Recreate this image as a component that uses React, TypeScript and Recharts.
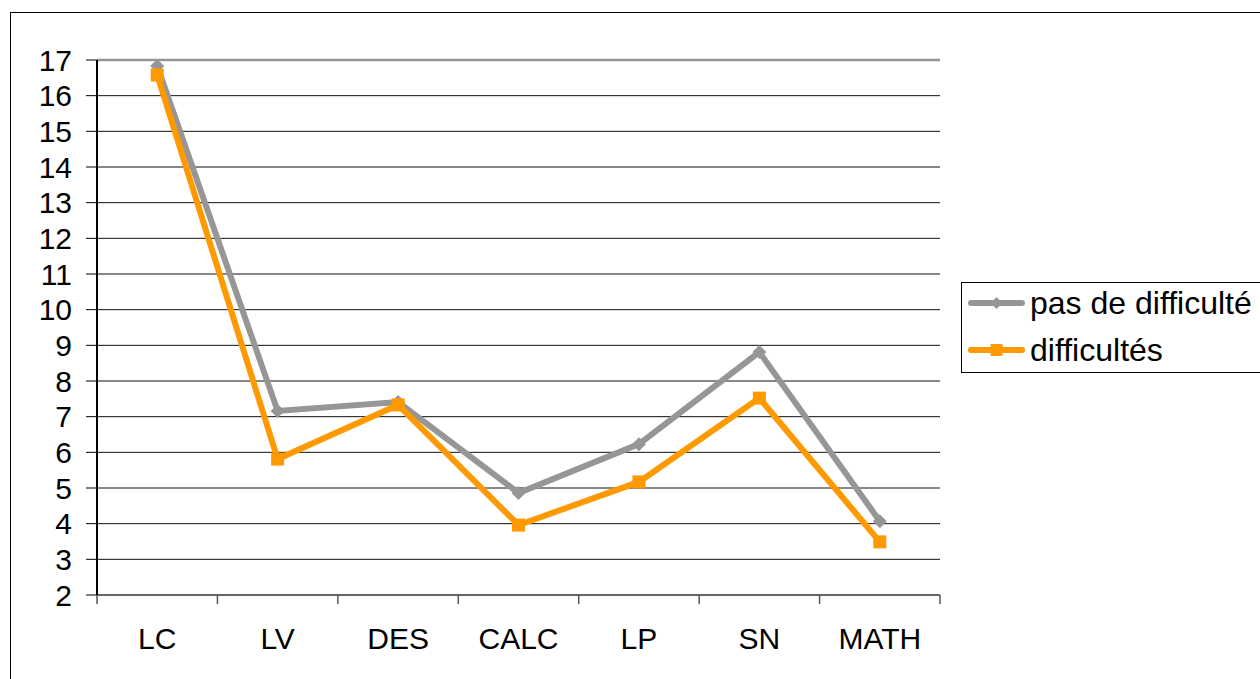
import React from "react";
import { LineChart, Line, XAxis, YAxis, CartesianGrid, ReferenceLine } from "recharts";

const categories = ["LC", "LV", "DES", "CALC", "LP", "SN", "MATH"];
const pasDeDifficulte = [16.83, 7.16, 7.41, 4.86, 6.23, 8.81, 4.07];
const difficultes = [16.58, 5.81, 7.33, 3.96, 5.17, 7.52, 3.49];
const yTicks = [2, 3, 4, 5, 6, 7, 8, 9, 10, 11, 12, 13, 14, 15, 16, 17];
const seriesNames = ["pas de difficulté", "difficultés"];
const seriesColors = ["#969696", "#FF9900"];

const data = categories.map((c, i) => ({
  name: c,
  pas: pasDeDifficulte[i],
  diff: difficultes[i],
}));

const FONT = '"Liberation Sans", Arial, sans-serif';

const Diamond = (props: any) => {
  const { cx, cy, index } = props;
  if (cx == null || cy == null) return <g key={`dg-${index}`} />;
  return (
    <polygon
      key={`dg-${index}`}
      points={`${cx},${cy - 7} ${cx + 7},${cy} ${cx},${cy + 7} ${cx - 7},${cy}`}
      fill={seriesColors[0]}
    />
  );
};

const Square = (props: any) => {
  const { cx, cy, index } = props;
  if (cx == null || cy == null) return <g key={`sq-${index}`} />;
  return <rect key={`sq-${index}`} x={cx - 6.5} y={cy - 6.5} width={13} height={13} fill={seriesColors[1]} />;
};

const XTick = (props: any) => {
  const { x, y, payload, index } = props;
  const half = payload && payload.offset ? payload.offset : 60.2;
  const last = index === categories.length - 1;
  return (
    <g>
      <line x1={x - half} x2={x - half} y1={y} y2={y + 9} stroke="#555" strokeWidth={1.5} />
      {last && <line x1={x + half} x2={x + half} y1={y} y2={y + 9} stroke="#555" strokeWidth={1.5} />}
      <text x={x} y={y + 43} textAnchor="middle" dominantBaseline="central" fontSize={30} fontFamily={FONT} fill="#000">
        {payload.value}
      </text>
    </g>
  );
};

const LegendIcon = ({ i }: { i: number }) => (
  <svg width={57} height={14} style={{ marginRight: 5 }}>
    <line x1={3} x2={54} y1={7} y2={7} stroke={seriesColors[i]} strokeWidth={6} strokeLinecap="round" />
    {i === 0 ? (
      <polygon points="28.5,1 34.5,7 28.5,13 22.5,7" fill={seriesColors[0]} />
    ) : (
      <rect x={22.5} y={1} width={12} height={12} fill={seriesColors[1]} />
    )}
  </svg>
);

export default function App() {
  return (
    <div style={{ position: "absolute", left: 0, top: 0, width: 1260, height: 679, overflow: "hidden", background: "#fff" }}>
      <div style={{ position: "absolute", left: 10, top: 12, width: 1300, height: 720, border: "1.5px solid #000" }} />
      <div style={{ position: "absolute", left: 0, top: 0 }}>
        <LineChart
          width={1260}
          height={679}
          data={data}
          margin={{ top: 60, right: 320, bottom: 24, left: 0 }}
        >
          <CartesianGrid vertical={false} stroke="#111" strokeWidth={1} />
          <XAxis
            dataKey="name"
            scale="band"
            height={60}
            tickSize={0}
            tickMargin={0}
            tickLine={false}
            axisLine={{ stroke: "#666", strokeWidth: 2 }}
            tick={<XTick />}
            interval={0}
          />
          <YAxis
            width={97}
            domain={[2, 17]}
            ticks={yTicks}
            interval={0}
            tickSize={11}
            tickMargin={14}
            axisLine={{ stroke: "#000", strokeWidth: 2 }}
            tickLine={{ stroke: "#000" }}
            tick={{ fontSize: 30, fontFamily: FONT, fill: "#000" }}
          />
          <YAxis
            yAxisId="right"
            orientation="right"
            width={0}
            domain={[2, 17]}
            tick={false}
            tickLine={false}
            axisLine={{ stroke: "#969696", strokeWidth: 2 }}
          />
          <ReferenceLine y={17} stroke="#969696" strokeWidth={2.5} />
          <Line
            dataKey="pas"
            name={seriesNames[0]}
            stroke={seriesColors[0]}
            strokeWidth={6}
            dot={Diamond}
            activeDot={false}
            isAnimationActive={false}
          />
          <Line
            dataKey="diff"
            name={seriesNames[1]}
            stroke={seriesColors[1]}
            strokeWidth={6}
            dot={Square}
            activeDot={false}
            isAnimationActive={false}
          />
        </LineChart>
      </div>
      <div
        style={{
          position: "absolute",
          left: 961,
          top: 282,
          width: 330,
          height: 89,
          border: "1.5px solid #000",
          background: "#fff",
          fontFamily: FONT,
          fontSize: 32,
          color: "#000",
        }}
      >
        {seriesNames.map((n, i) => (
          <div
            key={n}
            style={{
              position: "absolute",
              left: 6,
              top: (i === 0 ? 20 : 67) - 20,
              height: 40,
              display: "flex",
              alignItems: "center",
              whiteSpace: "nowrap",
            }}
          >
            <LegendIcon i={i} />
            <span>{n}</span>
          </div>
        ))}
      </div>
    </div>
  );
}
